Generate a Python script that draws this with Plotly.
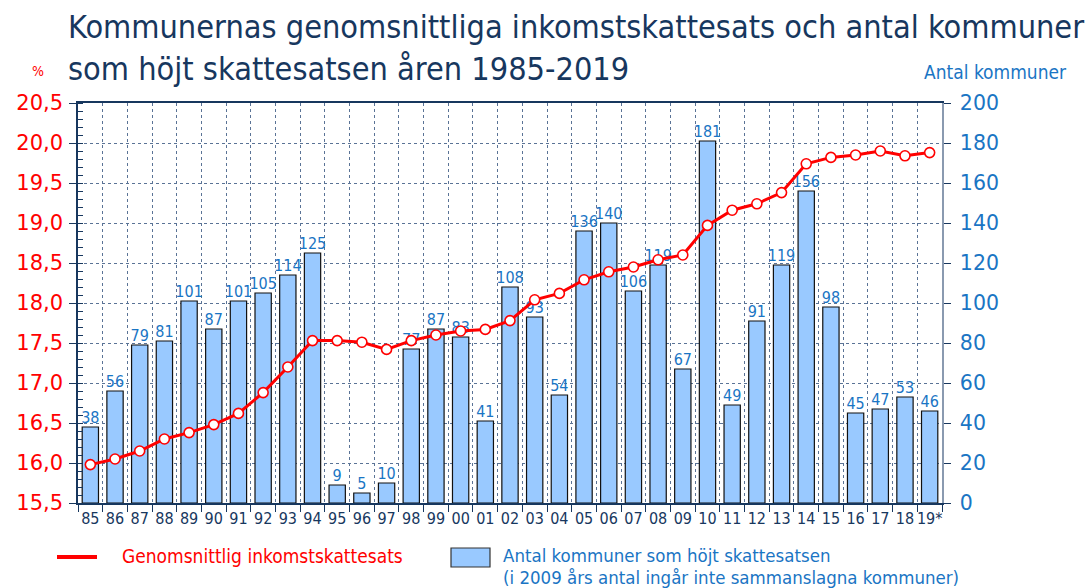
import plotly.graph_objects as go

years = ["85","86","87","88","89","90","91","92","93","94","95","96","97","98","99","00","01","02","03","04",
         "05","06","07","08","09","10","11","12","13","14","15","16","17","18","19*"]
antal = [38,56,79,81,101,87,101,105,114,125,9,5,10,77,87,83,41,108,93,54,
         136,140,106,119,67,181,49,91,119,156,98,45,47,53,46]
skattesats = [15.98,16.05,16.15,16.30,16.38,16.48,16.62,16.88,17.20,17.53,17.53,17.51,17.42,17.53,17.60,17.65,17.67,17.78,18.04,18.12,
              18.29,18.39,18.45,18.54,18.60,18.97,19.16,19.24,19.38,19.74,19.82,19.85,19.90,19.84,19.88]

W, H = 1087, 588
L, R, T, B = 78, 145, 103, 85
pw, ph = W - L - R, H - T - B

def px(x):  # pixel x -> paper
    return (x - L) / pw

def py(y):  # pixel y -> paper
    return 1 - (y - T) / ph

NAVY = "#17375e"
RED = "#ff0000"
BLUE = "#1a75c4"
GRID = "#5a7396"
FONT = "DejaVu Sans Condensed, DejaVu Sans, sans-serif"

fig = go.Figure()
fig.add_trace(go.Bar(
    x=years, y=antal, yaxis="y",
    marker=dict(color="#99c9ff", line=dict(color="#111111", width=1.2)),
    textposition="none",
    name="Antal kommuner", showlegend=False,
))
fig.add_trace(go.Scatter(
    x=years, y=antal, yaxis="y", mode="text",
    text=[str(v) for v in antal], textposition="top center", cliponaxis=False,
    textfont=dict(family=FONT, size=16, color=BLUE),
    showlegend=False, hoverinfo="skip",
))
fig.add_trace(go.Scatter(
    x=years, y=skattesats, yaxis="y2", mode="lines+markers",
    line=dict(color=RED, width=3),
    marker=dict(size=10, color="white", line=dict(color=RED, width=1.6)),
    name="Genomsnittlig inkomstskattesats", showlegend=False,
))

fig.update_layout(
    width=W, height=H,
    margin=dict(l=L, r=R, t=T, b=B, autoexpand=False),
    paper_bgcolor="white", plot_bgcolor="white",
    separators=", ",
    bargap=0.34,
    font=dict(family=FONT),
    xaxis=dict(
        type="category", tickson="boundaries", showgrid=True, automargin=False,
        gridcolor=GRID, griddash="dot", gridwidth=1, tickangle=0,
        showline=True, linecolor=NAVY, linewidth=1.5, mirror=True,
        ticks="outside", ticklen=7, tickcolor=NAVY,
        tickfont=dict(family=FONT, size=16, color=NAVY),
        range=[-0.5, len(years) - 0.5],
    ),
    yaxis=dict(
        side="right", range=[0, 200], dtick=20, automargin=False,
        showgrid=True, gridcolor=GRID, griddash="dot", gridwidth=1,
        showline=True, linecolor="#8a9ab0", linewidth=1.5,
        ticks="outside", ticklen=7, tickcolor=NAVY, ticklabelstandoff=5,
        tickfont=dict(family="DejaVu Sans", size=20.5, color=BLUE),
        zeroline=False,
    ),
    yaxis2=dict(
        side="left", overlaying="y", range=[15.5, 20.5], dtick=0.5, automargin=False,
        tickformat=".1f", showgrid=False, zeroline=False,
        showline=True, linecolor=NAVY, linewidth=1.5,
        ticks="outside", ticklen=7, tickcolor=NAVY, ticklabelstandoff=2,
        minor=dict(dtick=0.1, ticks="inside", ticklen=5, tickcolor=NAVY, showgrid=False),
        tickfont=dict(family="DejaVu Sans", size=21, color=RED),
    ),
)

ann = []
ann.append(dict(text="Kommunernas genomsnittliga inkomstskattesats och antal kommuner<br>som höjt skattesatsen åren 1985-2019",
                x=px(66), y=py(6), xref="paper", yref="paper", xanchor="left", yanchor="top",
                align="left", showarrow=False, font=dict(family=FONT, size=32.2, color=NAVY)))
ann.append(dict(text="%", x=px(38), y=py(71), xref="paper", yref="paper", xanchor="center", yanchor="middle",
                showarrow=False, font=dict(family=FONT, size=14, color=RED)))
ann.append(dict(text="Antal kommuner", x=px(1069), y=py(72), xref="paper", yref="paper", xanchor="right", yanchor="middle",
                showarrow=False, font=dict(family=FONT, size=19, color=BLUE)))
ann.append(dict(text="Genomsnittlig inkomstskattesats", x=px(121), y=py(556), xref="paper", yref="paper",
                xanchor="left", yanchor="middle", showarrow=False, borderpad=0,
                font=dict(family=FONT, size=19, color=RED)))
ann.append(dict(text="Antal kommuner som höjt skattesatsen", x=px(502), y=py(555), xref="paper", yref="paper",
                xanchor="left", yanchor="middle", showarrow=False, borderpad=0,
                font=dict(family=FONT, size=18.5, color=BLUE)))
ann.append(dict(text="(i 2009 års antal ingår inte sammanslagna kommuner)", x=px(502), y=py(577), xref="paper", yref="paper",
                xanchor="left", yanchor="middle", showarrow=False, borderpad=0,
                font=dict(family=FONT, size=18.5, color=BLUE)))
fig.update_layout(annotations=ann)

fig.update_layout(shapes=[
    dict(type="line", xref="paper", yref="paper", x0=px(57), x1=px(97), y0=py(557), y1=py(557),
         line=dict(color=RED, width=4)),
    dict(type="rect", xref="paper", yref="paper", x0=px(451), x1=px(490), y0=py(548), y1=py(567),
         fillcolor="#99c9ff", line=dict(color="#333333", width=1.2)),
])

fig.write_html("out.html", config={"displayModeBar": False},
               post_script="document.body.style.margin='0';document.body.style.overflow='hidden';")
